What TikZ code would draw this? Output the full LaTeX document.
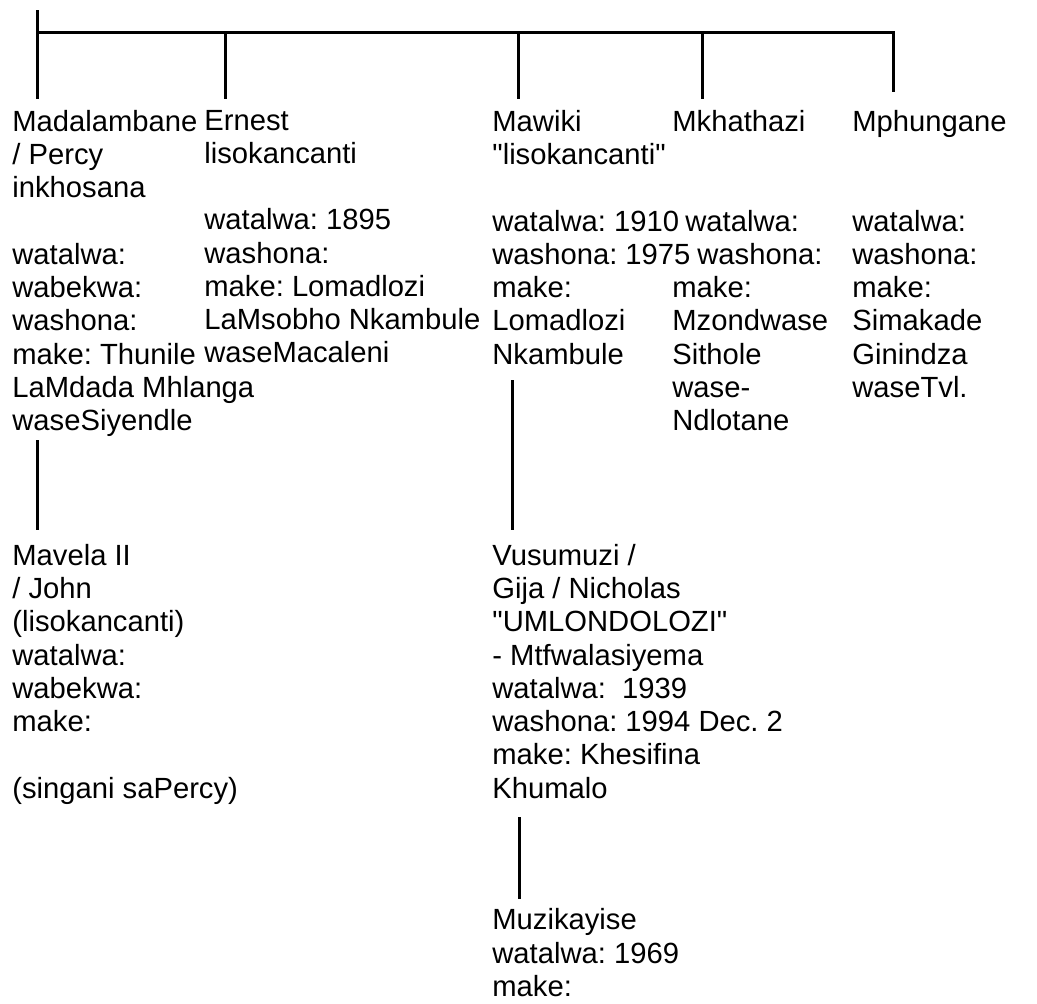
\documentclass[tikz,border=0pt]{standalone}
\usepackage{fontspec}
\setmainfont{Liberation Sans}
\usetikzlibrary{calc}
\newcommand{\pfont}{\fontsize{14.6pt}{16.625pt}\selectfont\frenchspacing}
\newcommand{\gap}{\mbox{}}
\newcommand{\q}[1]{\textquotedbl#1\textquotedbl}

\begin{document}
\begin{tikzpicture}[
      x=0.5pt, y=-0.5pt,
      person/.style={align=left, anchor=north west, inner sep=0pt, font=\pfont, execute at begin node=\strut},
      link/.style={draw, line width=1.5pt, line join=miter}
    ]
      \useasboundingbox (0,0) rectangle (1037,1003);
      % children of the first row
      \node[person] (mad) at (12,109.7) {Madalambane\\/ Percy\\inkhosana\\\gap\\watalwa:\\wabekwa:\\washona:\\make: Thunile\\LaMdada Mhlanga\\waseSiyendle};
      \node[person] (ern) at (204,109.7) {Ernest\\lisokancanti\\\gap\\watalwa: 1895\\washona:\\make: Lomadlozi\\LaMsobho Nkambule\\waseMacaleni};
      \node[person] (maw) at (492,109.7) {Mawiki\\\q{lisokancanti}\\\gap\\watalwa: 1910\\washona: 1975\\make:\\Lomadlozi\\Nkambule};
      \node[person] (mkh) at (672,109.7) {Mkhathazi\\\gap\\\gap\\\hspace*{6.5pt}watalwa:\\\hspace*{12.5pt}washona:\\make:\\Mzondwase\\Sithole\\wase-\\Ndlotane};
      \node[person] (mph) at (852,109.7) {Mphungane\\\gap\\\gap\\watalwa:\\washona:\\make:\\Simakade\\Ginindza\\waseTvl.};
      % next generations
      \node[person] (mav) at (12,543.7) {Mavela II\\/ John\\(lisokancanti)\\watalwa:\\wabekwa:\\make:\\\gap\\(singani saPercy)};
      \node[person] (vus) at (492,543.7) {Vusumuzi /\\Gija / Nicholas\\\q{UMLONDOLOZI}\\- Mtfwalasiyema\\watalwa:\ \ 1939\\washona: 1994 Dec. 2\\make: Khesifina\\Khumalo};
      \node[person] (muz) at (492,908.4) {Muzikayise\\watalwa: 1969\\make:};

      % bar and drops
      \coordinate (parent) at (37,10);
      \coordinate (bar) at (37,32);
      \path ($(mad.north west)+(25,-10.7)$) coordinate (d1)
            ($(ern.north west)+(21,-10.7)$) coordinate (d2)
            ($(maw.north west)+(26,-10.7)$) coordinate (d3)
            ($(mkh.north west)+(30,-10.7)$) coordinate (d4)
            ($(mph.north west)+(41,-17.7)$) coordinate (d5);
      \draw[link] (parent) -- (d1);
      \draw[link] (bar) -- (bar -| d5) -- (d5);
      \foreach \d in {d2,d3,d4}
        \draw[link] (bar -| \d) -- (\d);

      % parent to child
      \draw[link] ($(mad.north west)+(25,330.3)$) -- ($(mav.north west)+(25,-13.7)$);
      \draw[link] ($(maw.north west)+(20,270.3)$) -- ($(vus.north west)+(20,-13.7)$);
      \draw[link] ($(vus.north west)+(27,273.3)$) -- ($(muz.north west)+(27,-9.4)$);
    \end{tikzpicture}
\end{document}
